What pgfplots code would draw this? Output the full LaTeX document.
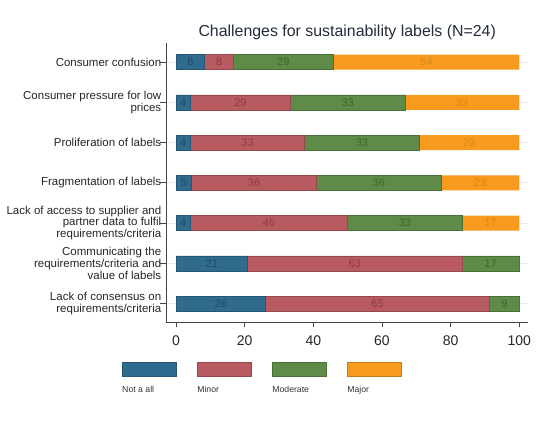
\documentclass[border=0pt]{standalone}
\usepackage{fontspec}
\setmainfont{Liberation Sans}
\usepackage{pgfplots}
\pgfplotsset{compat=1.18}

\definecolor{cNot}{HTML}{2F6B8E}
\definecolor{cMin}{HTML}{B85B60}
\definecolor{cMod}{HTML}{5E8B47}
\definecolor{cMaj}{HTML}{F79A1E}
\definecolor{tNot}{HTML}{1D4A6B}
\definecolor{tMin}{HTML}{8E3A40}
\definecolor{tMod}{HTML}{3D6630}
\definecolor{tMaj}{HTML}{D98A1A}
\definecolor{titlec}{HTML}{222B3A}
\definecolor{gridc}{HTML}{E6ECF0}
\definecolor{axisc}{HTML}{444444}

\pgfplotsset{
  common/.style={
    at={(166.7pt,103.3pt)}, anchor=south west,
    width=361pt, height=280pt, scale only axis,
    xmin=-2.71, xmax=102.45, ymin=-0.477, ymax=6.48,
  },
  lab/.style={draw=none, mark=none, nodes near coords, point meta=explicit symbolic,
    every node near coord/.style={anchor=center, font=\fontsize{11}{11}\selectfont, text=#1}},
  leg/.style 2 args={legend image code/.code={
    \path[draw=none, fill=none] (0pt,0pt) rectangle (73.8pt,14pt);
    \filldraw[fill=#1, draw=#1!80!black, line width=0.5pt] (0pt,0pt) rectangle (54pt,14pt);
    \node[anchor=west, inner sep=0pt, text=black!80, font=\fontsize{8.7}{10}\selectfont] at (0.3pt,-14pt) {#2};}},
}

\begin{document}
\begin{tikzpicture}
\useasboundingbox (0pt,0pt) rectangle (550pt,426pt);

\begin{axis}[common,
  xbar stacked, bar width=15pt,
  axis lines*=left,
  axis line style={draw=axisc, line width=0.8pt},
  tick align=outside,
  tick style={draw=axisc, line width=0.8pt},
  xtick style={/pgfplots/major tick length=4pt},
  ytick style={/pgfplots/major tick length=7pt},
  xtick={0,20,40,60,80,100},
  ytick={0,1,2,3,4,5,6},
  yticklabels={{Lack of consensus on\\requirements/criteria},
    {Communicating the\\requirements/criteria and\\value of labels},
    {Lack of access to supplier and\\partner data to fulfil\\requirements/criteria},
    {Fragmentation of labels},
    {Proliferation of labels},
    {Consumer pressure for low\\prices},
    {Consumer confusion}},
  yticklabel style={align=right, inner sep=1pt, text=black!85,
    font=\fontsize{11.5}{11.7}\selectfont},
  xticklabel style={text=black!85, font=\fontsize{14}{14}\selectfont, yshift=-5pt},
  /pgf/number format/assume math mode=true,
  ymajorgrids, major grid style={draw=gridc, line width=0.6pt},
  legend columns=4,
  legend style={at={(-0.1247,-0.1404)}, anchor=north west, draw=none, fill=none,
    inner sep=0pt, outer sep=0pt, column sep=0pt, row sep=0pt,
    nodes={inner sep=0pt, outer sep=0pt}},
]
\addplot[fill=cNot, draw=cNot!80!black, line width=0.5pt, leg={cNot}{Not a all}]
  coordinates {(26.09,0) (20.83,1) (4.17,2) (4.55,3) (4.17,4) (4.17,5) (8.33,6)};
\addlegendentry{}
\addplot[fill=cMin, draw=cMin!80!black, line width=0.5pt, leg={cMin}{Minor}]
  coordinates {(65.22,0) (62.50,1) (45.83,2) (36.36,3) (33.33,4) (29.17,5) (8.33,6)};
\addlegendentry{}
\addplot[fill=cMod, draw=cMod!80!black, line width=0.5pt, leg={cMod}{Moderate}]
  coordinates {(8.70,0) (16.67,1) (33.33,2) (36.36,3) (33.33,4) (33.33,5) (29.17,6)};
\addlegendentry{}
\addplot[fill=cMaj, draw=none, leg={cMaj}{Major}]
  coordinates {(0,0) (0,1) (16.67,2) (22.73,3) (29.17,4) (33.33,5) (54.17,6)};
\addlegendentry{}
\end{axis}

\begin{axis}[common, hide axis, clip=false]
\addplot[lab=tNot] coordinates {(13.04,0)[26] (10.42,1)[21] (2.08,2)[4] (2.27,3)[5] (2.08,4)[4] (2.08,5)[4] (4.17,6)[8]};
\addplot[lab=tMin] coordinates {(58.70,0)[65] (52.08,1)[63] (27.08,2)[46] (22.73,3)[36] (20.83,4)[33] (18.75,5)[29] (12.50,6)[8]};
\addplot[lab=tMod] coordinates {(95.65,0)[9] (91.67,1)[17] (66.67,2)[33] (59.09,3)[36] (54.17,4)[33] (50.00,5)[33] (31.25,6)[29]};
\addplot[lab=tMaj] coordinates {(91.67,2)[17] (88.64,3)[23] (85.42,4)[29] (83.33,5)[33] (72.92,6)[54]};
\node[anchor=base, inner sep=0pt, text=titlec, font=\fontsize{15.9}{16}\selectfont]
  at ([yshift=6.7pt]rel axis cs:0.5,1) {Challenges for sustainability labels (N=24)};
\end{axis}
\end{tikzpicture}
\end{document}
